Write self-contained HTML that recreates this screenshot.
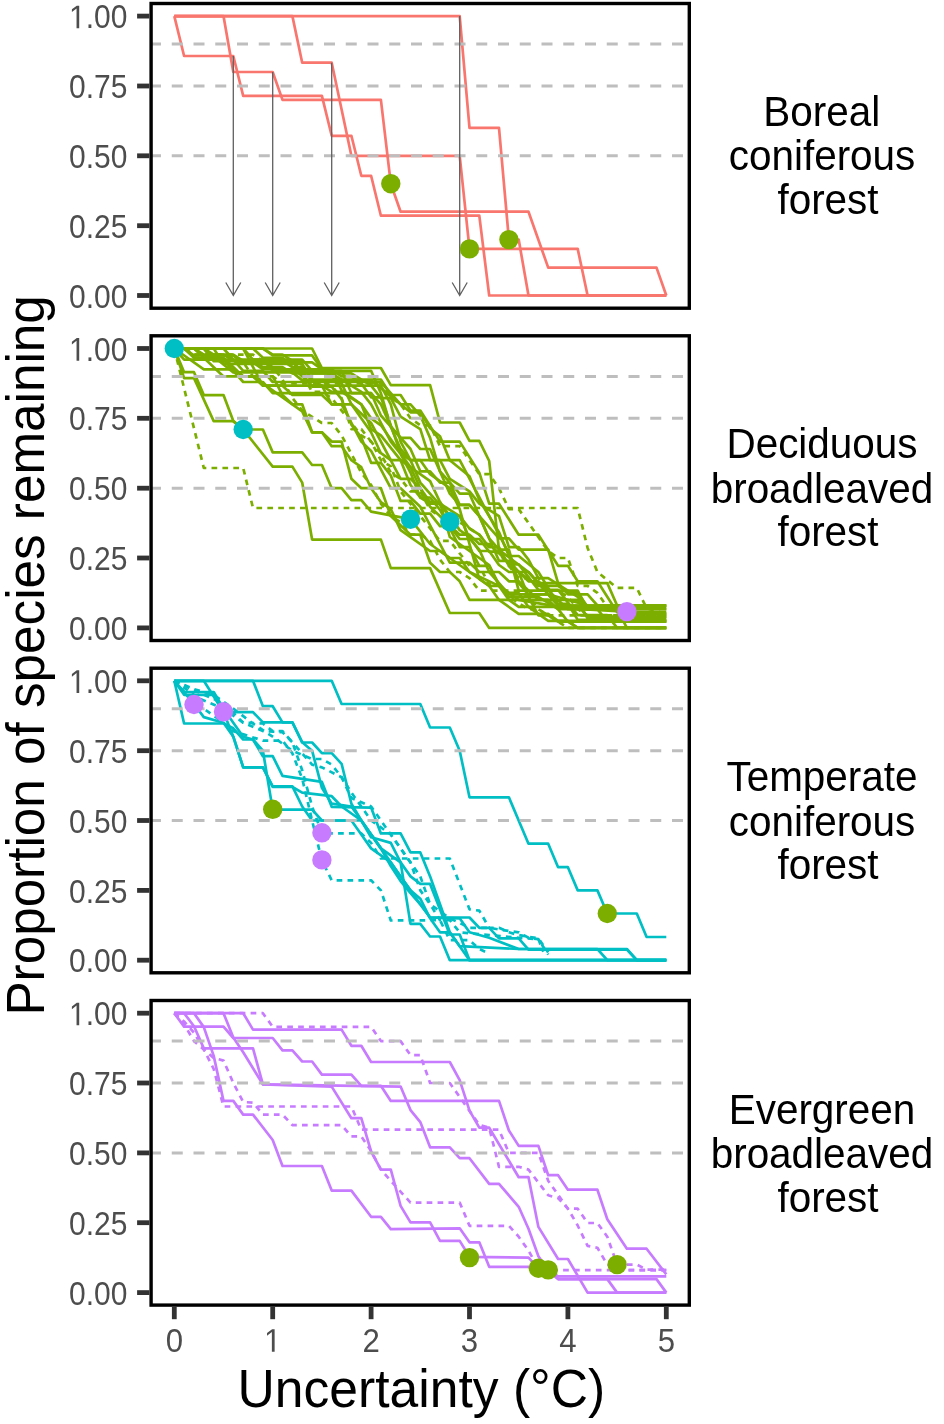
<!DOCTYPE html><html><head><meta charset="utf-8"><style>html,body{margin:0;padding:0;background:#fff;width:944px;height:1424px;overflow:hidden}svg{display:block;will-change:transform}text{font-family:"Liberation Sans",sans-serif}</style></head><body>
<svg width="944" height="1424" viewBox="0 0 944 1424">
<polyline points="174.3,16.1 184.1,56 233.3,56 243.2,95.9 321.9,95.9 331.7,135.8 351.4,135.8 361.3,175.8 371.1,175.8 380.9,215.7 479.3,215.7 489.2,295.5 666.3,295.5" fill="none" stroke="#F8766D" stroke-width="2.7" stroke-linejoin="round"/>
<polyline points="174.3,16.1 223.5,16.1 233.3,72 272.7,72 282.5,99.9 380.9,99.9 390.8,183.7 400.6,211.7 528.5,211.7 548.2,267.6 656.5,267.6 666.3,295.5" fill="none" stroke="#F8766D" stroke-width="2.7" stroke-linejoin="round"/>
<polyline points="174.3,16.1 292.4,16.1 302.2,62.7 331.7,62.7 351.4,155.8 459.7,155.8 469.5,248.9 577.7,248.9 587.6,295.5 666.3,295.5" fill="none" stroke="#F8766D" stroke-width="2.7" stroke-linejoin="round"/>
<polyline points="174.3,16.1 459.7,16.1 469.5,127.9 499,127.9 508.9,239.6 518.7,239.6 528.5,295.5 666.3,295.5" fill="none" stroke="#F8766D" stroke-width="2.7" stroke-linejoin="round"/>
<line x1="150" y1="44" x2="687" y2="44" stroke="#BEBEBE" stroke-width="3" stroke-dasharray="11 10.75"/>
<line x1="150" y1="86" x2="687" y2="86" stroke="#BEBEBE" stroke-width="3" stroke-dasharray="11 10.75"/>
<line x1="150" y1="155.8" x2="687" y2="155.8" stroke="#BEBEBE" stroke-width="3" stroke-dasharray="11 10.75"/>
<path d="M233.3,56V295.5M225.8,282.5L233.3,295.5L240.8,282.5" fill="none" stroke="#606060" stroke-width="1.3"/>
<path d="M272.7,72V295.5M265.2,282.5L272.7,295.5L280.2,282.5" fill="none" stroke="#606060" stroke-width="1.3"/>
<path d="M331.7,62.7V295.5M324.2,282.5L331.7,295.5L339.2,282.5" fill="none" stroke="#606060" stroke-width="1.3"/>
<path d="M459.7,16.1V295.5M452.2,282.5L459.7,295.5L467.2,282.5" fill="none" stroke="#606060" stroke-width="1.3"/>
<circle cx="390.8" cy="183.7" r="9.7" fill="#7CAE00"/>
<circle cx="469.5" cy="248.9" r="9.7" fill="#7CAE00"/>
<circle cx="508.9" cy="239.6" r="9.7" fill="#7CAE00"/>
<rect x="151.1" y="3.5" width="538.2" height="304.7" fill="none" stroke="#000" stroke-width="3.4"/>
<line x1="137.1" y1="16.1" x2="149.5" y2="16.1" stroke="#333" stroke-width="4.8"/>
<g transform="translate(127.4,16.1) scale(1,1.095)" fill="#4D4D4D"><text y="11.1" font-size="30" text-anchor="end">.00</text><path transform="translate(-58.39,11.1) scale(0.014648,-0.014648)" d="M515 0V1237L197 1010V1180L530 1409H696V0Z"/></g>
<line x1="137.1" y1="86" x2="149.5" y2="86" stroke="#333" stroke-width="4.8"/>
<text transform="translate(127.4,86) scale(1,1.095)" y="11.1" font-size="30" fill="#4D4D4D" text-anchor="end">0.75</text>
<line x1="137.1" y1="155.8" x2="149.5" y2="155.8" stroke="#333" stroke-width="4.8"/>
<text transform="translate(127.4,155.8) scale(1,1.095)" y="11.1" font-size="30" fill="#4D4D4D" text-anchor="end">0.50</text>
<line x1="137.1" y1="225.7" x2="149.5" y2="225.7" stroke="#333" stroke-width="4.8"/>
<text transform="translate(127.4,225.7) scale(1,1.095)" y="11.1" font-size="30" fill="#4D4D4D" text-anchor="end">0.25</text>
<line x1="137.1" y1="295.5" x2="149.5" y2="295.5" stroke="#333" stroke-width="4.8"/>
<text transform="translate(127.4,295.5) scale(1,1.095)" y="11.1" font-size="30" fill="#4D4D4D" text-anchor="end">0.00</text>
<text transform="translate(821.7,125.7) scale(0.987,1.05)" font-size="41" fill="#000" text-anchor="middle">Boreal</text>
<text transform="translate(822,170.1) scale(0.987,1.05)" font-size="41" fill="#000" text-anchor="middle">coniferous</text>
<text transform="translate(828,213.5) scale(0.987,1.05)" font-size="41" fill="#000" text-anchor="middle">forest</text>
<polyline points="174.3,348.5 203.8,468 243.2,468 253,508 577.7,508 587.6,547.9 597.4,572 617.1,587.9 636.8,587.9 646.6,608.3 666.3,613.9" fill="none" stroke="#7CAE00" stroke-width="2.7" stroke-linejoin="round" stroke-dasharray="5.7 5.2"/>
<polyline points="174.3,348.5 184.1,372.2 194,372.2 203.8,395.1 223.5,395.1 233.3,421.1 243.2,429.5 262.9,429.5 272.7,452.4 302.2,452.4 312.1,465 321.9,465 331.7,488.2 341.6,488.2 351.4,500.2 361.3,500.2 371.1,511.6 410.5,519.2 430.1,544 449.8,558 469.5,572 499,585.9 518.7,599.9 567.9,608.3 666.3,613.9" fill="none" stroke="#7CAE00" stroke-width="2.7" stroke-linejoin="round"/>
<polyline points="174.3,348.5 184.1,378.1 194,378.1 213.7,421.1 233.3,421.1 243.2,429.5 272.7,466.6 292.4,466.6 302.2,482.6 312.1,539.6 380.9,539.6 390.8,568.1 430.1,568.1 449.8,613 479.3,613 489.2,627.9 666.3,627.9" fill="none" stroke="#7CAE00" stroke-width="2.7" stroke-linejoin="round"/>
<polyline points="174.3,348.5 312.1,348.5 321.9,368 380.9,368 390.8,385.1 430.1,385.1 440,422.5 459.7,422.5 469.5,440.9 479.3,440.9 489.2,461 499,549.9 528.5,572 548.2,594.3 587.6,605.5 666.3,605.5" fill="none" stroke="#7CAE00" stroke-width="2.7" stroke-linejoin="round"/>
<polyline points="174.3,348.5 203.8,348.5 213.7,361.2 292.4,361.2 312.1,386.6 331.7,386.6 341.6,399.2 351.4,424.7 361.3,437.4 371.1,462.8 380.9,462.8 390.8,475.5 400.6,500.9 410.5,500.9 420.3,513.6 430.1,513.6 440,526.2 449.8,526.2 459.7,539 479.3,539 489.2,551.7 499,551.7 508.9,564.4 518.7,564.4 538.4,589.8 558.1,589.8 577.7,615.1 607.3,615.1 617.1,627.9 666.3,627.9" fill="none" stroke="#7CAE00" stroke-width="2.7" stroke-linejoin="round"/>
<polyline points="174.3,348.5 223.5,348.5 243.2,370.8 262.9,370.8 272.7,382 380.9,382 400.6,404.3 410.5,404.3 420.3,415.5 430.1,437.9 440,471.4 459.7,493.7 469.5,493.7 489.2,538.4 499,549.6 508.9,549.6 518.7,583.1 528.5,594.3 548.2,594.3 558.1,605.5 577.7,605.5 587.6,616.7 666.3,616.7" fill="none" stroke="#7CAE00" stroke-width="2.7" stroke-linejoin="round"/>
<polyline points="174.3,348.5 213.7,348.5 223.5,364 302.2,364 312.1,379.5 380.9,379.5 390.8,395 400.6,395 410.5,410.5 420.3,410.5 440,441.6 459.7,441.6 479.3,472.6 489.2,503.7 499,503.7 518.7,534.7 538.4,534.7 558.1,565.8 567.9,565.8 577.7,581.3 597.4,581.3 617.1,612.3 666.3,612.3" fill="none" stroke="#7CAE00" stroke-width="2.7" stroke-linejoin="round"/>
<polyline points="174.3,348.5 184.1,348.5 194,354.7 213.7,354.7 223.5,360.9 292.4,360.9 302.2,367.1 312.1,379.5 321.9,385.7 331.7,385.7 341.6,398.1 351.4,429.2 361.3,429.2 371.1,441.6 380.9,460.2 390.8,466.4 400.6,491.3 440,540.9 449.8,540.9 469.5,565.8 479.3,565.8 489.2,584.4 499,584.4 508.9,596.8 528.5,609.2 538.4,609.2 567.9,627.9 666.3,627.9" fill="none" stroke="#7CAE00" stroke-width="2.7" stroke-linejoin="round" stroke-dasharray="5.7 5.2"/>
<polyline points="174.3,348.5 203.8,369.4 233.3,369.4 243.2,376.4 253,376.4 302.2,411.3 312.1,432.3 321.9,432.3 331.7,446.2 341.6,446.2 351.4,460.2 361.3,467.2 371.1,488.2 380.9,502.1 390.8,509.1 400.6,530.1 430.1,551 440,551 449.8,558 459.7,558 469.5,572 489.2,585.9 499,585.9 508.9,599.9 518.7,606.9 666.3,606.9" fill="none" stroke="#7CAE00" stroke-width="2.7" stroke-linejoin="round"/>
<polyline points="174.3,348.5 243.2,348.5 253,359.6 302.2,359.6 312.1,370.8 371.1,370.8 380.9,393.2 390.8,426.7 400.6,437.9 410.5,437.9 420.3,449 430.1,449 449.8,493.7 459.7,504.9 469.5,504.9 479.3,516.1 499,560.8 508.9,560.8 518.7,572 528.5,572 538.4,583.1 607.3,583.1 617.1,605.5 626.9,605.5 636.8,616.7 666.3,616.7" fill="none" stroke="#7CAE00" stroke-width="2.7" stroke-linejoin="round"/>
<polyline points="174.3,348.5 184.1,359.6 262.9,359.6 272.7,370.8 341.6,370.8 351.4,393.2 371.1,393.2 380.9,415.5 390.8,426.7 400.6,449 410.5,460.2 420.3,482.6 449.8,516.1 459.7,516.1 469.5,538.4 479.3,549.6 489.2,572 508.9,594.3 548.2,594.3 558.1,605.5 666.3,605.5" fill="none" stroke="#7CAE00" stroke-width="2.7" stroke-linejoin="round"/>
<polyline points="174.3,348.5 243.2,348.5 262.9,385.7 380.9,385.7 390.8,404.3 400.6,441.6 410.5,460.2 459.7,460.2 508.9,553.3 518.7,590.6 577.7,590.6 587.6,609.2 617.1,609.2 626.9,627.9 666.3,627.9" fill="none" stroke="#7CAE00" stroke-width="2.7" stroke-linejoin="round"/>
<polyline points="174.3,348.5 184.1,348.5 194,354.7 253,354.7 272.7,367.1 282.5,379.5 292.4,398.1 302.2,410.5 321.9,423 331.7,423 341.6,435.4 361.3,472.6 371.1,485 380.9,503.7 390.8,516.1 400.6,522.3 410.5,534.7 420.3,534.7 430.1,540.9 440,559.6 449.8,572 459.7,572 469.5,578.2 479.3,590.6 518.7,590.6 528.5,596.8 538.4,609.2 548.2,615.4 666.3,615.4" fill="none" stroke="#7CAE00" stroke-width="2.7" stroke-linejoin="round" stroke-dasharray="5.7 5.2"/>
<polyline points="174.3,348.5 194,348.5 223.5,376.4 272.7,376.4 282.5,395 292.4,404.3 302.2,404.3 312.1,432.3 321.9,432.3 331.7,441.6 341.6,441.6 351.4,478.8 361.3,488.2 380.9,488.2 390.8,516.1 410.5,534.7 420.3,534.7 430.1,562.7 440,572 449.8,572 459.7,581.3 469.5,599.9 558.1,599.9 567.9,609.2 666.3,609.2" fill="none" stroke="#7CAE00" stroke-width="2.7" stroke-linejoin="round"/>
<polyline points="174.3,348.5 194,348.5 203.8,354.7 223.5,354.7 233.3,360.9 282.5,360.9 292.4,367.1 302.2,367.1 312.1,373.3 331.7,373.3 361.3,391.9 371.1,404.3 390.8,441.6 400.6,454 410.5,472.6 420.3,497.5 430.1,497.5 440,509.9 459.7,547.1 469.5,547.1 479.3,565.8 489.2,565.8 499,584.4 508.9,596.8 538.4,596.8 558.1,609.2 567.9,621.6 666.3,621.6" fill="none" stroke="#7CAE00" stroke-width="2.7" stroke-linejoin="round"/>
<polyline points="174.3,348.5 262.9,348.5 272.7,355.4 312.1,355.4 321.9,369.4 331.7,369.4 341.6,390.4 361.3,404.3 371.1,418.3 380.9,425.3 410.5,467.2 420.3,488.2 430.1,502.1 440,502.1 459.7,530.1 469.5,537 479.3,551 489.2,551 499,565 508.9,572 518.7,572 538.4,585.9 558.1,585.9 567.9,592.9 577.7,592.9 587.6,606.9 626.9,606.9 636.8,613.9 666.3,613.9" fill="none" stroke="#7CAE00" stroke-width="2.7" stroke-linejoin="round"/>
<polyline points="174.3,348.5 223.5,348.5 233.3,360.9 292.4,360.9 302.2,373.3 312.1,391.9 321.9,391.9 331.7,398.1 361.3,435.4 371.1,441.6 380.9,454 390.8,472.6 400.6,478.8 410.5,491.3 420.3,491.3 430.1,509.9 449.8,522.3 459.7,522.3 479.3,534.7 489.2,547.1 499,553.3 518.7,578.2 538.4,578.2 548.2,590.6 558.1,590.6 567.9,596.8 577.7,609.2 587.6,615.4 666.3,615.4" fill="none" stroke="#7CAE00" stroke-width="2.7" stroke-linejoin="round" stroke-dasharray="5.7 5.2"/>
<polyline points="174.3,348.5 184.1,348.5 194,357.8 223.5,357.8 243.2,376.4 253,376.4 262.9,385.7 282.5,385.7 292.4,395 321.9,395 331.7,404.3 351.4,404.3 371.1,423 400.6,478.8 410.5,478.8 420.3,488.2 430.1,506.8 459.7,534.7 469.5,534.7 479.3,544 489.2,544 528.5,581.3 538.4,581.3 558.1,599.9 577.7,599.9 587.6,618.5 666.3,618.5" fill="none" stroke="#7CAE00" stroke-width="2.7" stroke-linejoin="round"/>
<polyline points="174.3,348.5 194,348.5 203.8,355.4 233.3,355.4 243.2,362.4 312.1,362.4 341.6,383.4 351.4,404.3 371.1,432.3 380.9,453.2 390.8,460.2 400.6,460.2 430.1,481.2 440,502.1 449.8,537 489.2,565 499,585.9 508.9,592.9 518.7,592.9 528.5,606.9 538.4,613.9 548.2,613.9 558.1,620.9 666.3,620.9" fill="none" stroke="#7CAE00" stroke-width="2.7" stroke-linejoin="round"/>
<polyline points="174.3,348.5 253,348.5 262.9,357.8 282.5,357.8 312.1,385.7 321.9,385.7 331.7,404.3 341.6,404.3 361.3,441.6 371.1,450.9 390.8,488.2 400.6,488.2 420.3,506.8 449.8,562.7 469.5,562.7 479.3,572 499,572 508.9,581.3 518.7,581.3 538.4,599.9 548.2,599.9 558.1,609.2 666.3,609.2" fill="none" stroke="#7CAE00" stroke-width="2.7" stroke-linejoin="round"/>
<polyline points="174.3,348.5 262.9,348.5 272.7,354.7 282.5,354.7 292.4,360.9 302.2,373.3 331.7,391.9 341.6,391.9 361.3,404.3 371.1,429.2 380.9,435.4 400.6,460.2 410.5,485 420.3,497.5 430.1,503.7 440,503.7 459.7,516.1 469.5,528.5 479.3,534.7 489.2,547.1 499,547.1 508.9,565.8 518.7,572 528.5,596.8 538.4,615.4 548.2,615.4 558.1,621.6 567.9,621.6 577.7,627.9 666.3,627.9" fill="none" stroke="#7CAE00" stroke-width="2.7" stroke-linejoin="round"/>
<polyline points="174.3,348.5 203.8,348.5 213.7,359.6 223.5,359.6 243.2,382 262.9,382 272.7,393.2 371.1,393.2 380.9,404.3 390.8,426.7 410.5,449 420.3,471.4 430.1,471.4 440,482.6 449.8,482.6 459.7,504.9 469.5,504.9 499,538.4 508.9,538.4 518.7,549.6 548.2,549.6 558.1,583.1 567.9,594.3 587.6,594.3 597.4,605.5 666.3,605.5" fill="none" stroke="#7CAE00" stroke-width="2.7" stroke-linejoin="round"/>
<polyline points="174.3,348.5 203.8,348.5 233.3,372.4 292.4,372.4 302.2,380.4 371.1,380.4 410.5,412.3 420.3,412.3 430.1,428.3 440,436.3 449.8,460.2 469.5,476.2 479.3,500.1 499,532.1 508.9,556 518.7,556 538.4,572 558.1,603.9 567.9,603.9 577.7,619.9 666.3,619.9" fill="none" stroke="#7CAE00" stroke-width="2.7" stroke-linejoin="round"/>
<polyline points="174.3,348.5 184.1,348.5 194,355.4 213.7,355.4 223.5,362.4 243.2,362.4 253,376.4 272.7,376.4 282.5,383.4 380.9,383.4 390.8,397.3 400.6,404.3 410.5,418.3 420.3,425.3 430.1,425.3 440,446.2 459.7,446.2 479.3,474.2 489.2,474.2 499,488.2 508.9,509.1 518.7,509.1 548.2,551 558.1,558 567.9,558 577.7,585.9 587.6,585.9 597.4,592.9 617.1,620.9 666.3,620.9" fill="none" stroke="#7CAE00" stroke-width="2.7" stroke-linejoin="round" stroke-dasharray="5.7 5.2"/>
<polyline points="174.3,348.5 203.8,348.5 213.7,354.7 233.3,354.7 243.2,360.9 253,360.9 262.9,367.1 282.5,367.1 292.4,373.3 351.4,373.3 371.1,385.7 380.9,398.1 390.8,398.1 400.6,416.7 420.3,429.2 430.1,460.2 440,460.2 449.8,478.8 469.5,491.3 479.3,503.7 499,516.1 508.9,547.1 518.7,547.1 528.5,559.6 538.4,578.2 548.2,578.2 577.7,596.8 587.6,609.2 597.4,609.2 607.3,621.6 666.3,621.6" fill="none" stroke="#7CAE00" stroke-width="2.7" stroke-linejoin="round"/>
<polyline points="174.3,348.5 184.1,348.5 194,355.4 233.3,355.4 243.2,362.4 253,362.4 262.9,369.4 331.7,369.4 341.6,376.4 351.4,376.4 361.3,383.4 371.1,397.3 380.9,397.3 400.6,453.2 410.5,460.2 420.3,460.2 430.1,474.2 449.8,488.2 459.7,509.1 479.3,579 489.2,585.9 499,599.9 518.7,613.9 538.4,613.9 548.2,620.9 567.9,620.9 577.7,627.9 666.3,627.9" fill="none" stroke="#7CAE00" stroke-width="2.7" stroke-linejoin="round"/>
<line x1="150" y1="376.4" x2="687" y2="376.4" stroke="#BEBEBE" stroke-width="3" stroke-dasharray="11 10.75"/>
<line x1="150" y1="418.3" x2="687" y2="418.3" stroke="#BEBEBE" stroke-width="3" stroke-dasharray="11 10.75"/>
<line x1="150" y1="488.2" x2="687" y2="488.2" stroke="#BEBEBE" stroke-width="3" stroke-dasharray="11 10.75"/>
<circle cx="174.3" cy="348.5" r="9.7" fill="#00BFC4"/>
<circle cx="243.2" cy="429.5" r="9.7" fill="#00BFC4"/>
<circle cx="410.5" cy="519.2" r="9.7" fill="#00BFC4"/>
<circle cx="449.8" cy="521.7" r="9.7" fill="#00BFC4"/>
<circle cx="626.9" cy="611.6" r="9.7" fill="#C77CFF"/>
<rect x="151.1" y="335.8" width="538.2" height="304.7" fill="none" stroke="#000" stroke-width="3.4"/>
<line x1="137.1" y1="348.5" x2="149.5" y2="348.5" stroke="#333" stroke-width="4.8"/>
<g transform="translate(127.4,348.5) scale(1,1.095)" fill="#4D4D4D"><text y="11.1" font-size="30" text-anchor="end">.00</text><path transform="translate(-58.39,11.1) scale(0.014648,-0.014648)" d="M515 0V1237L197 1010V1180L530 1409H696V0Z"/></g>
<line x1="137.1" y1="418.3" x2="149.5" y2="418.3" stroke="#333" stroke-width="4.8"/>
<text transform="translate(127.4,418.3) scale(1,1.095)" y="11.1" font-size="30" fill="#4D4D4D" text-anchor="end">0.75</text>
<line x1="137.1" y1="488.2" x2="149.5" y2="488.2" stroke="#333" stroke-width="4.8"/>
<text transform="translate(127.4,488.2) scale(1,1.095)" y="11.1" font-size="30" fill="#4D4D4D" text-anchor="end">0.50</text>
<line x1="137.1" y1="558" x2="149.5" y2="558" stroke="#333" stroke-width="4.8"/>
<text transform="translate(127.4,558) scale(1,1.095)" y="11.1" font-size="30" fill="#4D4D4D" text-anchor="end">0.25</text>
<line x1="137.1" y1="627.9" x2="149.5" y2="627.9" stroke="#333" stroke-width="4.8"/>
<text transform="translate(127.4,627.9) scale(1,1.095)" y="11.1" font-size="30" fill="#4D4D4D" text-anchor="end">0.00</text>
<text transform="translate(822,458.4) scale(0.987,1.05)" font-size="41" fill="#000" text-anchor="middle">Deciduous</text>
<text transform="translate(822,502.8) scale(0.987,1.05)" font-size="41" fill="#000" text-anchor="middle">broadleaved</text>
<text transform="translate(828,546.2) scale(0.987,1.05)" font-size="41" fill="#000" text-anchor="middle">forest</text>
<polyline points="174.3,680.8 331.7,680.8 341.6,704 420.3,704 430.1,727.5 449.8,727.5 459.7,750.7 469.5,797.3 508.9,797.3 528.5,843.7 548.2,843.7 558.1,867.2 567.9,867.2 577.7,890.4 597.4,890.4 607.3,913.5 636.8,913.5 646.6,937 666.3,937" fill="none" stroke="#00BFC4" stroke-width="2.7" stroke-linejoin="round"/>
<polyline points="174.3,680.8 253,680.8 262.9,706.2 272.7,706.2 282.5,722.4 292.4,722.4 302.2,742.5 312.1,742.5 321.9,753.2 331.7,753.2 341.6,763.8 351.4,803.7 361.3,820.5 371.1,834.5 380.9,848.4 390.8,866 400.6,881.1 410.5,893.1 420.3,904.3 430.1,917.5 469.5,917.5 479.3,927.8 489.2,927.8 499,938.4 518.7,938.4 528.5,949.6 626.9,949.6 636.8,960.2 666.3,960.2" fill="none" stroke="#00BFC4" stroke-width="2.7" stroke-linejoin="round"/>
<polyline points="174.3,680.8 184.1,692 213.7,692 223.5,708.7 233.3,722.7 243.2,736.7 253,739.5 262.9,750.7 272.7,809.6 312.1,809.6 321.9,820.5 361.3,820.5 371.1,834.5 380.9,848.4 400.6,862.4 410.5,876.4 420.3,883.9 430.1,883.9 449.8,934.5 459.7,934.5 469.5,960.2 666.3,960.2" fill="none" stroke="#00BFC4" stroke-width="2.7" stroke-linejoin="round"/>
<polyline points="174.3,680.8 184.1,723.5 223.5,723.5 233.3,728.3 243.2,739.5 253,739.5 262.9,756.2 272.7,756.2 282.5,775.8 321.9,781.9 331.7,806.8 371.1,807.6 380.9,833.4 400.6,833.4 410.5,852.4 420.3,852.4 430.1,876.4 440,904.3 449.8,932.3 459.7,946.2 469.5,960.2 666.3,960.2" fill="none" stroke="#00BFC4" stroke-width="2.7" stroke-linejoin="round"/>
<polyline points="174.3,680.8 184.1,694.8 213.7,694.8 223.5,712.1 253,712.1 262.9,722.4 292.4,722.4 302.2,742.3 312.1,750.7 321.9,787.8 331.7,803.7 351.4,806.5 361.3,820.5 371.1,837.3 390.8,842.9 400.6,862.4 410.5,923.9 420.3,923.9 430.1,936.5 440,936.5 449.8,960.2 666.3,960.2" fill="none" stroke="#00BFC4" stroke-width="2.7" stroke-linejoin="round"/>
<polyline points="174.3,680.8 194,704 203.8,717.1 223.5,722.7 233.3,736.7 243.2,767.4 262.9,767.4 272.7,787 292.4,787 302.2,792.6 331.7,796.2 341.6,806.5 361.3,820.5 371.1,834.5 380.9,848.4 390.8,862.4 400.6,876.4 410.5,890.4 420.3,898.7 430.1,918.3 440,932.3 449.8,932.3 459.7,946.2 518.7,949 597.4,949 607.3,960.2 666.3,960.2" fill="none" stroke="#00BFC4" stroke-width="2.7" stroke-linejoin="round"/>
<polyline points="174.3,680.8 203.8,680.8 223.5,712.1 233.3,736.7 243.2,767.4 262.9,767.4 272.7,786.4 292.4,786.4 302.2,806.5 312.1,820.5 351.4,820.5 361.3,834.5 371.1,848.4 390.8,862.4 400.6,876.4 420.3,904.3 430.1,917.5 459.7,918.3 469.5,932.3 489.2,937.8 518.7,949 626.9,949 636.8,960.2 666.3,960.2" fill="none" stroke="#00BFC4" stroke-width="2.7" stroke-linejoin="round"/>
<polyline points="174.3,680.8 194,694.8 203.8,708.7 223.5,722.7 233.3,731.1 262.9,740.6 282.5,740.6 292.4,753.4 302.2,778.6 312.1,820.5 321.9,860.5 331.7,880.3 371.1,880.3 380.9,890.4 390.8,920.5 440,920.2 449.8,940.1 469.5,940.1 479.3,949 489.2,953.5" fill="none" stroke="#00BFC4" stroke-width="2.7" stroke-linejoin="round" stroke-dasharray="5.7 5.2"/>
<polyline points="174.3,680.8 184.1,692 203.8,700.4 223.5,708.7 243.2,722.7 262.9,723.5 272.7,731.1 282.5,731.1 292.4,742.3 302.2,770.2 312.1,806.5 321.9,833.4 361.3,833.4 371.1,842.9 380.9,858.5 449.8,858.5 469.5,909.3 479.3,910.7 489.2,927.8 499,927.8 508.9,932.3 518.7,935.1 538.4,938.4 548.2,952.4" fill="none" stroke="#00BFC4" stroke-width="2.7" stroke-linejoin="round" stroke-dasharray="5.7 5.2"/>
<polyline points="174.3,680.8 203.8,694.8 223.5,703.2 243.2,722.7 262.9,731.1 282.5,732.2 292.4,742.3 312.1,764.6 321.9,767.4 341.6,777.2 351.4,792.6 361.3,806.5 371.1,820.5 390.8,834.5 410.5,862.4 420.3,890.4 430.1,904.3 440,920.2 449.8,920.2 459.7,932.3 489.2,935.1 518.7,937.8 538.4,939.2 543.3,951.8" fill="none" stroke="#00BFC4" stroke-width="2.7" stroke-linejoin="round" stroke-dasharray="5.7 5.2"/>
<polyline points="174.3,680.8 194,689.2 213.7,694.8 233.3,708.7 253,723.5 272.7,736.7 292.4,750.7 312.1,759 321.9,759 331.7,764.6 341.6,777.2 351.4,798.1 371.1,806.5 380.9,820.5 390.8,834.5 400.6,848.4 420.3,876.4 430.1,904.3 449.8,918.3 469.5,927.8 489.2,927.8 499,929.5 518.7,932.3 528.5,937.8 538.4,939.2 548.2,954.6" fill="none" stroke="#00BFC4" stroke-width="2.7" stroke-linejoin="round" stroke-dasharray="5.7 5.2"/>
<line x1="150" y1="708.7" x2="687" y2="708.7" stroke="#BEBEBE" stroke-width="3" stroke-dasharray="11 10.75"/>
<line x1="150" y1="750.7" x2="687" y2="750.7" stroke="#BEBEBE" stroke-width="3" stroke-dasharray="11 10.75"/>
<line x1="150" y1="820.5" x2="687" y2="820.5" stroke="#BEBEBE" stroke-width="3" stroke-dasharray="11 10.75"/>
<circle cx="194" cy="704.5" r="9.7" fill="#C77CFF"/>
<circle cx="223.5" cy="711.8" r="9.7" fill="#C77CFF"/>
<circle cx="272.7" cy="809.3" r="9.7" fill="#7CAE00"/>
<circle cx="321.9" cy="832.8" r="9.7" fill="#C77CFF"/>
<circle cx="321.9" cy="859.9" r="9.7" fill="#C77CFF"/>
<circle cx="607.3" cy="913.5" r="9.7" fill="#7CAE00"/>
<rect x="151.1" y="668.2" width="538.2" height="304.6" fill="none" stroke="#000" stroke-width="3.4"/>
<line x1="137.1" y1="680.8" x2="149.5" y2="680.8" stroke="#333" stroke-width="4.8"/>
<g transform="translate(127.4,680.8) scale(1,1.095)" fill="#4D4D4D"><text y="11.1" font-size="30" text-anchor="end">.00</text><path transform="translate(-58.39,11.1) scale(0.014648,-0.014648)" d="M515 0V1237L197 1010V1180L530 1409H696V0Z"/></g>
<line x1="137.1" y1="750.7" x2="149.5" y2="750.7" stroke="#333" stroke-width="4.8"/>
<text transform="translate(127.4,750.7) scale(1,1.095)" y="11.1" font-size="30" fill="#4D4D4D" text-anchor="end">0.75</text>
<line x1="137.1" y1="820.5" x2="149.5" y2="820.5" stroke="#333" stroke-width="4.8"/>
<text transform="translate(127.4,820.5) scale(1,1.095)" y="11.1" font-size="30" fill="#4D4D4D" text-anchor="end">0.50</text>
<line x1="137.1" y1="890.4" x2="149.5" y2="890.4" stroke="#333" stroke-width="4.8"/>
<text transform="translate(127.4,890.4) scale(1,1.095)" y="11.1" font-size="30" fill="#4D4D4D" text-anchor="end">0.25</text>
<line x1="137.1" y1="960.2" x2="149.5" y2="960.2" stroke="#333" stroke-width="4.8"/>
<text transform="translate(127.4,960.2) scale(1,1.095)" y="11.1" font-size="30" fill="#4D4D4D" text-anchor="end">0.00</text>
<text transform="translate(822,791.1) scale(0.987,1.05)" font-size="41" fill="#000" text-anchor="middle">Temperate</text>
<text transform="translate(822,835.5) scale(0.987,1.05)" font-size="41" fill="#000" text-anchor="middle">coniferous</text>
<text transform="translate(828,878.9) scale(0.987,1.05)" font-size="41" fill="#000" text-anchor="middle">forest</text>
<polyline points="174.3,1013.2 184.1,1026.6 223.5,1026.6 233.3,1038 272.7,1038 282.5,1050.3 292.4,1050.3 302.2,1061.5 312.1,1061.5 321.9,1074.6 351.4,1074.6 361.3,1085.8 380.9,1085.8 390.8,1100.9 499,1100.9 508.9,1130.5 518.7,1145.9 538.4,1145.9 548.2,1175.2 558.1,1175.2 567.9,1189.7 597.4,1189.7 607.3,1219.3 626.9,1248.7 646.6,1248.7 666.3,1274.4" fill="none" stroke="#C77CFF" stroke-width="2.7" stroke-linejoin="round"/>
<polyline points="174.3,1013.2 243.2,1013.2 253,1029.6 341.6,1029.6 351.4,1045.8 361.3,1045.8 371.1,1062 449.8,1062 459.7,1080.2 469.5,1110.7 479.3,1127.7 489.2,1127.7 518.7,1177.2 528.5,1177.2 538.4,1226.9 558.1,1259 567.9,1259 587.6,1292.6 666.3,1292.6" fill="none" stroke="#C77CFF" stroke-width="2.7" stroke-linejoin="round"/>
<polyline points="174.3,1013.2 262.9,1013.2 272.7,1026.8 371.1,1026.8 380.9,1041.1 400.6,1041.1 410.5,1055.1 420.3,1055.1 430.1,1083 449.8,1083 459.7,1097 469.5,1110.9 479.3,1124.9 489.2,1127.7 499,1166.8 518.7,1166.8 528.5,1169.6 548.2,1195.3 558.1,1198.1 567.9,1208.7 577.7,1225.5 587.6,1245.9 597.4,1247.8 607.3,1264.6 617.1,1267.4 626.9,1270.2 666.3,1270.2" fill="none" stroke="#C77CFF" stroke-width="2.7" stroke-linejoin="round" stroke-dasharray="5.7 5.2"/>
<polyline points="174.3,1013.2 184.1,1013.2 194,1026.3 203.8,1048.4 253,1048.4 262.9,1084.4 400.6,1086.6 410.5,1110.1 420.3,1122.1 430.1,1147.3 449.8,1147.3 459.7,1158.2 469.5,1158.2 489.2,1183.9 499,1183.9 518.7,1206.8 528.5,1228.8 538.4,1256.2 548.2,1270.2 558.1,1279.1 656.5,1279.1 666.3,1292.6" fill="none" stroke="#C77CFF" stroke-width="2.7" stroke-linejoin="round"/>
<polyline points="174.3,1013.2 223.5,1013.2 233.3,1037.5 243.2,1052.3 262.9,1084.4 331.7,1086.6 351.4,1118.2 361.3,1118.2 371.1,1151.5 380.9,1169.6 390.8,1169.6 400.6,1205.9 410.5,1222.4 430.1,1222.4 440,1240.9 459.7,1240.9 469.5,1256.8 528.5,1257.6 538.4,1268.2 548.2,1270.2 558.1,1276.3 666.3,1276.3" fill="none" stroke="#C77CFF" stroke-width="2.7" stroke-linejoin="round"/>
<polyline points="174.3,1013.2 194,1013.2 203.8,1027.1 213.7,1055.9 223.5,1100.9 233.3,1100.9 243.2,1114.6 253,1114.6 272.7,1140 282.5,1166 321.9,1166 331.7,1190.6 351.4,1190.6 371.1,1216.8 380.9,1216.8 390.8,1229.1 459.7,1228.3 469.5,1242.3 479.3,1242.3 489.2,1266.8 528.5,1266.8 538.4,1268.2 548.2,1270.2 558.1,1279.1 607.3,1279.1 617.1,1292.6 666.3,1292.6" fill="none" stroke="#C77CFF" stroke-width="2.7" stroke-linejoin="round"/>
<polyline points="174.3,1013.2 184.1,1021.5 194,1032.7 203.8,1049.5 213.7,1069 223.5,1106.5 351.4,1106.5 361.3,1129.7 499,1129.7 508.9,1152.9 538.4,1152.9 548.2,1180.8 558.1,1194.8 567.9,1208.7 577.7,1208.7 587.6,1223 597.4,1223 607.3,1236.7 617.1,1264.6 636.8,1264.6 646.6,1269.6 666.3,1269.6" fill="none" stroke="#C77CFF" stroke-width="2.7" stroke-linejoin="round" stroke-dasharray="5.7 5.2"/>
<polyline points="174.3,1013.2 184.1,1024.3 194,1041.1 203.8,1049.5 213.7,1057.9 223.5,1060.6 233.3,1083 243.2,1102 253,1102.6 262.9,1114.6 282.5,1114.6 292.4,1125.2 341.6,1125.2 351.4,1136.4 361.3,1136.4 371.1,1150.9 380.9,1169.6 390.8,1180.8 410.5,1202.6 459.7,1202.6 469.5,1225.8 508.9,1225.8 518.7,1236.7 528.5,1250.6 538.4,1268.2 548.2,1270.2 666.3,1270.2" fill="none" stroke="#C77CFF" stroke-width="2.7" stroke-linejoin="round" stroke-dasharray="5.7 5.2"/>
<line x1="150" y1="1041.1" x2="687" y2="1041.1" stroke="#BEBEBE" stroke-width="3" stroke-dasharray="11 10.75"/>
<line x1="150" y1="1083" x2="687" y2="1083" stroke="#BEBEBE" stroke-width="3" stroke-dasharray="11 10.75"/>
<line x1="150" y1="1152.9" x2="687" y2="1152.9" stroke="#BEBEBE" stroke-width="3" stroke-dasharray="11 10.75"/>
<circle cx="469.5" cy="1257.6" r="9.7" fill="#7CAE00"/>
<circle cx="538.4" cy="1268.2" r="9.7" fill="#7CAE00"/>
<circle cx="548.2" cy="1269.9" r="9.7" fill="#7CAE00"/>
<circle cx="617.1" cy="1264.6" r="9.7" fill="#7CAE00"/>
<rect x="151.1" y="1000.5" width="538.2" height="304.6" fill="none" stroke="#000" stroke-width="3.4"/>
<line x1="137.1" y1="1013.2" x2="149.5" y2="1013.2" stroke="#333" stroke-width="4.8"/>
<g transform="translate(127.4,1013.2) scale(1,1.095)" fill="#4D4D4D"><text y="11.1" font-size="30" text-anchor="end">.00</text><path transform="translate(-58.39,11.1) scale(0.014648,-0.014648)" d="M515 0V1237L197 1010V1180L530 1409H696V0Z"/></g>
<line x1="137.1" y1="1083" x2="149.5" y2="1083" stroke="#333" stroke-width="4.8"/>
<text transform="translate(127.4,1083) scale(1,1.095)" y="11.1" font-size="30" fill="#4D4D4D" text-anchor="end">0.75</text>
<line x1="137.1" y1="1152.9" x2="149.5" y2="1152.9" stroke="#333" stroke-width="4.8"/>
<text transform="translate(127.4,1152.9) scale(1,1.095)" y="11.1" font-size="30" fill="#4D4D4D" text-anchor="end">0.50</text>
<line x1="137.1" y1="1222.7" x2="149.5" y2="1222.7" stroke="#333" stroke-width="4.8"/>
<text transform="translate(127.4,1222.7) scale(1,1.095)" y="11.1" font-size="30" fill="#4D4D4D" text-anchor="end">0.25</text>
<line x1="137.1" y1="1292.6" x2="149.5" y2="1292.6" stroke="#333" stroke-width="4.8"/>
<text transform="translate(127.4,1292.6) scale(1,1.095)" y="11.1" font-size="30" fill="#4D4D4D" text-anchor="end">0.00</text>
<text transform="translate(822,1123.9) scale(0.987,1.05)" font-size="41" fill="#000" text-anchor="middle">Evergreen</text>
<text transform="translate(822,1168.3) scale(0.987,1.05)" font-size="41" fill="#000" text-anchor="middle">broadleaved</text>
<text transform="translate(828,1211.7) scale(0.987,1.05)" font-size="41" fill="#000" text-anchor="middle">forest</text>
<line x1="174.3" y1="1306.5" x2="174.3" y2="1319.2" stroke="#333" stroke-width="4.8"/>
<text transform="translate(174.3,1340.8) scale(1.04,1.095)" y="10.1" font-size="30" fill="#4D4D4D" text-anchor="middle">0</text>
<line x1="272.7" y1="1306.5" x2="272.7" y2="1319.2" stroke="#333" stroke-width="4.8"/>
<path transform="translate(272.7,1340.8) scale(1.04,1.095) translate(-8.342,10.1) scale(0.014648,-0.014648)" fill="#4D4D4D" d="M515 0V1237L197 1010V1180L530 1409H696V0Z"/>
<line x1="371.1" y1="1306.5" x2="371.1" y2="1319.2" stroke="#333" stroke-width="4.8"/>
<text transform="translate(371.1,1340.8) scale(1.04,1.095)" y="10.1" font-size="30" fill="#4D4D4D" text-anchor="middle">2</text>
<line x1="469.5" y1="1306.5" x2="469.5" y2="1319.2" stroke="#333" stroke-width="4.8"/>
<text transform="translate(469.5,1340.8) scale(1.04,1.095)" y="10.1" font-size="30" fill="#4D4D4D" text-anchor="middle">3</text>
<line x1="567.9" y1="1306.5" x2="567.9" y2="1319.2" stroke="#333" stroke-width="4.8"/>
<text transform="translate(567.9,1340.8) scale(1.04,1.095)" y="10.1" font-size="30" fill="#4D4D4D" text-anchor="middle">4</text>
<line x1="666.3" y1="1306.5" x2="666.3" y2="1319.2" stroke="#333" stroke-width="4.8"/>
<text transform="translate(666.3,1340.8) scale(1.04,1.095)" y="10.1" font-size="30" fill="#4D4D4D" text-anchor="middle">5</text>
<text transform="translate(421.35,1407) scale(0.974,1)" font-size="53" fill="#000" text-anchor="middle">Uncertainty (°C)</text>
<text transform="translate(43.9,655.4) rotate(-90) scale(0.9668,1)" x="0" y="0" font-size="53" fill="#000" text-anchor="middle">Proportion of species remaining</text>
</svg></body></html>
